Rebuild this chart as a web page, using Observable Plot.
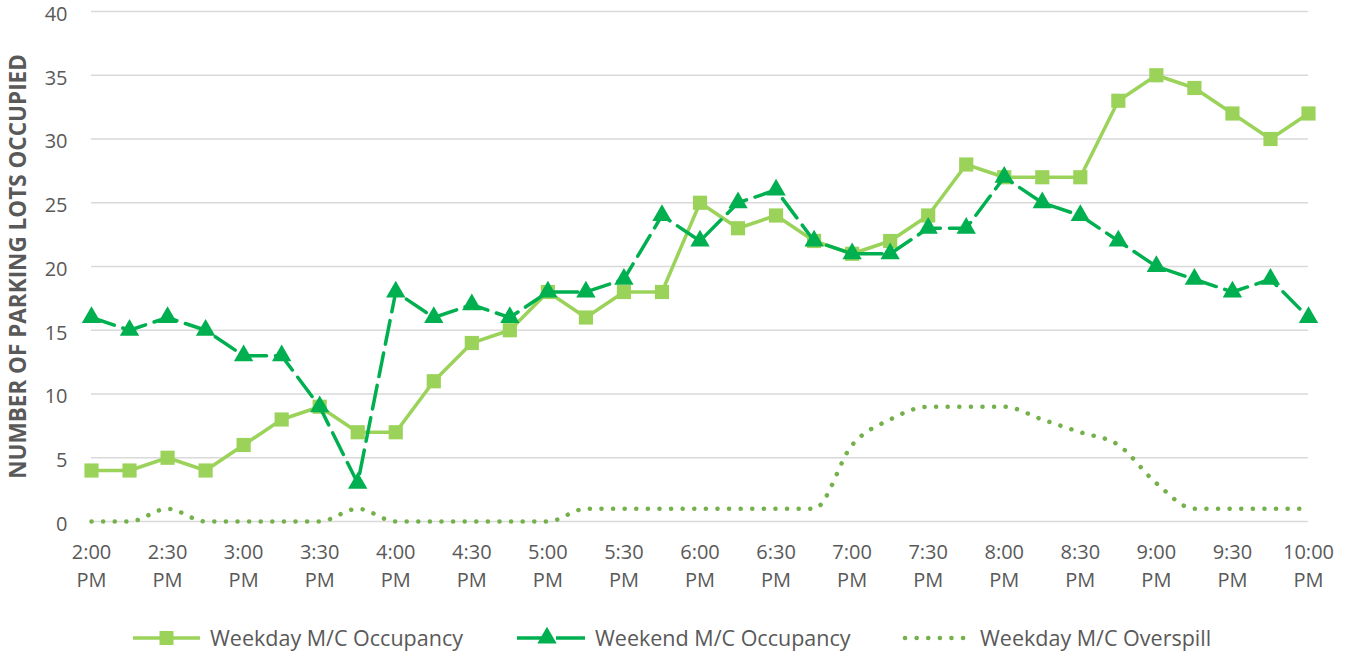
<!DOCTYPE html>
<html>
<head>
<meta charset="utf-8">
<script src="https://cdn.jsdelivr.net/npm/d3@7"></script>
<script src="https://cdn.jsdelivr.net/npm/@observablehq/plot@0.6"></script>
<style>
  body { margin: 0; background: #fff; font-family: "Open Sans", sans-serif; }
  #wrap { position: relative; width: 1351px; height: 653px; }
  #legend { position: absolute; left: 0; top: 610px; }
</style>
</head>
<body>
<div id="wrap"><div id="chart"></div><svg id="legend" width="1351" height="43"></svg></div>
<script>
const times = ["2:00 PM","2:15 PM","2:30 PM","2:45 PM","3:00 PM","3:15 PM","3:30 PM","3:45 PM",
  "4:00 PM","4:15 PM","4:30 PM","4:45 PM","5:00 PM","5:15 PM","5:30 PM","5:45 PM",
  "6:00 PM","6:15 PM","6:30 PM","6:45 PM","7:00 PM","7:15 PM","7:30 PM","7:45 PM",
  "8:00 PM","8:15 PM","8:30 PM","8:45 PM","9:00 PM","9:15 PM","9:30 PM","9:45 PM","10:00 PM"];
const weekdayOccupancy = [4,4,5,4,6,8,9,7,7,11,14,15,18,16,18,18,25,23,24,22,21,22,24,28,27,27,27,33,35,34,32,30,32];
const weekendOccupancy = [16,15,16,15,13,13,9,3,18,16,17,16,18,18,19,24,22,25,26,22,21,21,23,23,27,25,24,22,20,19,18,19,16];
const weekdayOverspill = [0,0,1,0,0,0,0,1,0,0,0,0,0,1,1,1,1,1,1,1,6,8,9,9,9,8,7,6,3,1,1,1,1];
const xTickLabels = ["2:00\nPM","2:30\nPM","3:00\nPM","3:30\nPM","4:00\nPM","4:30\nPM","5:00\nPM","5:30\nPM",
  "6:00\nPM","6:30\nPM","7:00\nPM","7:30\nPM","8:00\nPM","8:30\nPM","9:00\nPM","9:30\nPM","10:00\nPM"];
const yTicks = [0,5,10,15,20,25,30,35,40];
const seriesNames = ["Weekday M/C Occupancy","Weekend M/C Occupancy","Weekday M/C Overspill"];
const yTitle = "NUMBER OF PARKING LOTS OCCUPIED";

const C_WEEKDAY = "#9BD35A", C_WEEKEND = "#00B050", C_SPILL = "#74B14A", TXT = "#595959";

// minutes after 2:00 PM
const toMin = s => { const [h, m] = s.split(" ")[0].split(":").map(Number); return ((h % 12) + 12) * 60 + m - 840; };
const mins = times.map(toMin);
const rows = (vals) => vals.map((v, i) => ({x: mins[i], y: v}));
const wd = rows(weekdayOccupancy), we = rows(weekendOccupancy), sp = rows(weekdayOverspill);
const xTickVals = xTickLabels.map(l => toMin(l.replace("\n", " ")));

const chart = Plot.plot({
  width: 1351, height: 610,
  marginLeft: 91, marginRight: 43, marginTop: 11, marginBottom: 89,
  style: {fontFamily: "Open Sans, sans-serif", color: TXT, background: "#fff", overflow: "visible"},
  x: {domain: [0, 480]},
  y: {domain: [0, 40]},
  marks: [
    Plot.ruleY(yTicks, {stroke: "#D9D9D9", strokeWidth: 1.5}),
    Plot.axisY({ticks: yTicks, tickSize: 0, tickPadding: 24, fontSize: 20, dy: 3, fill: TXT, label: null}),
    Plot.axisX({ticks: xTickVals, tickFormat: (d, i) => xTickLabels[i], tickSize: 0, tickPadding: 18,
      fontSize: 20, lineHeight: 1.4, fill: TXT, label: null}),
    Plot.text([0], {frameAnchor: "left", dx: -73, rotate: -90, text: () => yTitle, textAnchor: "middle",
      fontSize: 22.5, fontWeight: "bold", fill: TXT}),
    Plot.line(sp, {x: "x", y: "y", curve: "monotone-x", stroke: C_SPILL, strokeWidth: 4.5,
      strokeDasharray: "0.1,11.5", strokeLinecap: "round"}),
    Plot.line(wd, {x: "x", y: "y", stroke: C_WEEKDAY, strokeWidth: 3.5}),
    Plot.dot(wd, {x: "x", y: "y", symbol: "square", r: 8, fill: C_WEEKDAY}),
    Plot.line(we, {x: "x", y: "y", stroke: C_WEEKEND, strokeWidth: 3.5, strokeDasharray: "24,9"}),
    Plot.dot(we, {x: "x", y: "y", symbol: "triangle", r: 7.2, fill: C_WEEKEND})
  ]
});
document.getElementById("chart").appendChild(chart);

// legend
const lg = d3.select("#legend");
const cy = 28;
const items = [
  {x0: 133, x1: 200, tx: 210, color: C_WEEKDAY},
  {x0: 517, x1: 585, tx: 595, color: C_WEEKEND},
  {x0: 905, x1: 969, tx: 980, color: C_SPILL}
];
items.forEach((it, i) => {
  const ln = lg.append("line").attr("x1", it.x0).attr("x2", it.x1).attr("y1", cy).attr("y2", cy)
    .attr("stroke", it.color);
  const mid = (it.x0 + it.x1) / 2;
  if (i === 0) {
    ln.attr("stroke-width", 3.5);
    lg.append("rect").attr("x", mid - 7).attr("y", cy - 7).attr("width", 14).attr("height", 14).attr("fill", it.color);
  } else if (i === 1) {
    ln.attr("stroke-width", 3.5).attr("stroke-dasharray", "30,9");
    lg.append("path").attr("transform", `translate(${mid - 4},${cy})`)
      .attr("d", d3.symbol(d3.symbolTriangle, Math.PI * 7.2 * 7.2)()).attr("fill", it.color);
  } else {
    ln.attr("stroke-width", 4.5).attr("stroke-dasharray", "0.1,11.5").attr("stroke-linecap", "round");
  }
  lg.append("text").attr("x", it.tx).attr("y", cy).attr("dy", "0.35em")
    .attr("font-size", 21.5).attr("fill", TXT).attr("font-family", "Open Sans, sans-serif")
    .text(seriesNames[i]);
});
</script>
</body>
</html>
